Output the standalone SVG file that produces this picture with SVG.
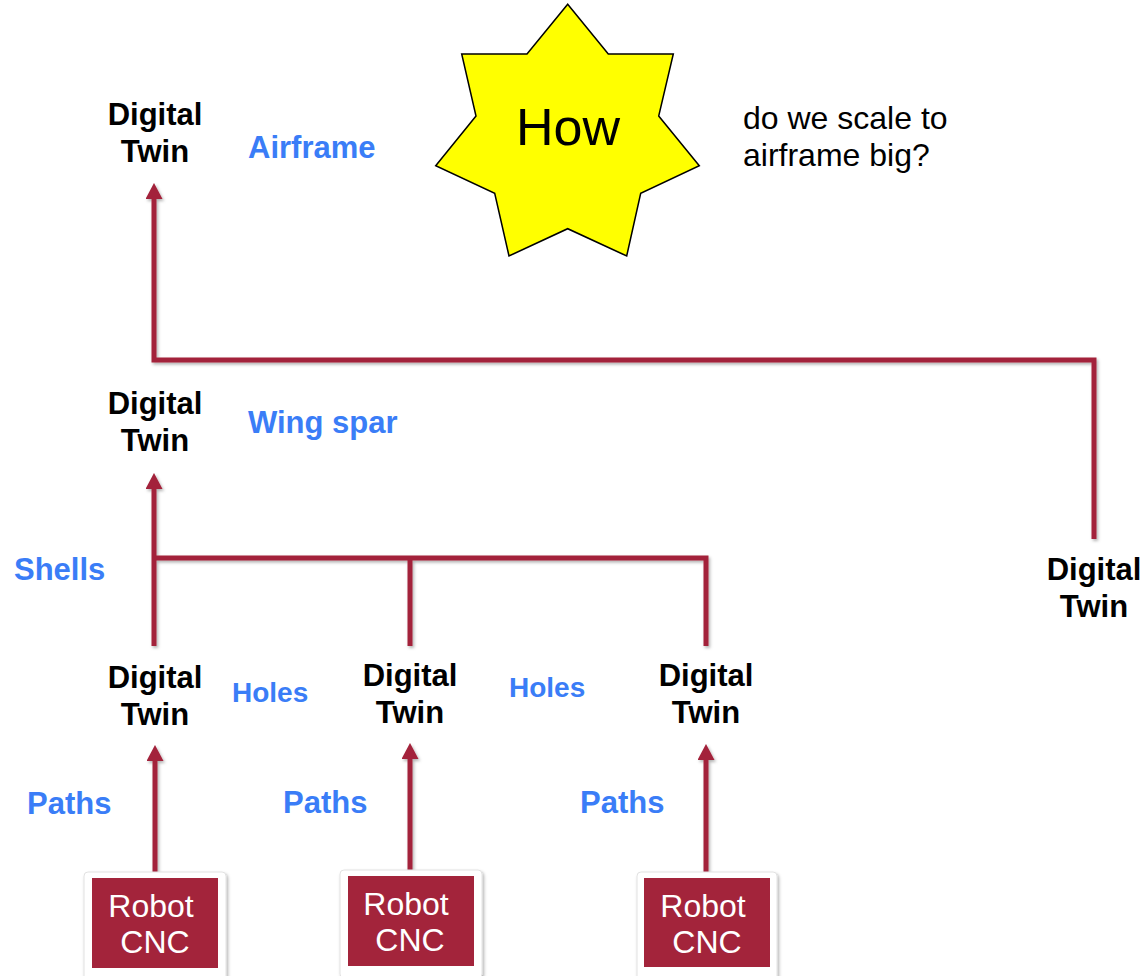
<svg xmlns="http://www.w3.org/2000/svg" width="1148" height="976" viewBox="0 0 1148 976">
  <style>
    .twin { font-family: "Liberation Sans", Arial, sans-serif; font-weight: bold; font-size: 31px; fill: #000; text-anchor: middle; }
    .lbl { font-family: "Liberation Sans", Arial, sans-serif; font-weight: bold; font-size: 31px; fill: #3A7DF7; }
    .sm { font-size: 28px; }
    .note { font-family: "Liberation Sans", Arial, sans-serif; font-size: 32px; fill: #000; }
    .cnc { font-family: "Liberation Sans", Arial, sans-serif; font-size: 32px; fill: #fff; text-anchor: middle; }
    .wire { fill: none; stroke: #A3243B; stroke-width: 5; stroke-linejoin: miter; }
    .frame { fill: #fff; stroke: #e2e2e2; stroke-width: 1; }
    .box { fill: #A3243B; }
  </style>
  <defs>
    <marker id="head" viewBox="0 0 16 17" refX="1" refY="8.5" markerWidth="16" markerHeight="17" markerUnits="userSpaceOnUse" orient="auto">
      <path d="M0,0 L16,8.5 L0,17 Z" fill="#A3243B"/>
    </marker>
    <filter id="shade" x="-20%" y="-20%" width="140%" height="140%">
      <feDropShadow dx="1.5" dy="2" stdDeviation="1.5" flood-color="#000" flood-opacity="0.3"/>
    </filter>
  </defs>

  <rect width="1148" height="976" fill="#fff"/>

  <!-- connectors -->
  <g id="connectors" filter="url(#shade)">
    <path class="wire" d="M1094,539 V360 H154 V198" marker-end="url(#head)"/>
    <path class="wire" d="M154,646 V488" marker-end="url(#head)"/>
    <path class="wire" d="M154,558 H706 V646"/>
    <path class="wire" d="M410,646 V558"/>
    <path class="wire" d="M155,875 V760" marker-end="url(#head)"/>
    <path class="wire" d="M410,873 V758" marker-end="url(#head)"/>
    <path class="wire" d="M706,875 V759" marker-end="url(#head)"/>
  </g>

  <!-- star callout -->
  <g id="how">
    <polygon points="567.7,4.3 608.3,54 673.3,54 658.7,116 699.3,165.7 640.7,193.3 626.7,256 567.7,228.7 509,256 494.7,193.3 435.7,165.7 476,116 461.7,54 527,54" fill="#FFFF00" stroke="#000" stroke-width="1.5"/>
    <text x="568" y="145" font-family="Liberation Sans, Arial, sans-serif" font-size="52" text-anchor="middle" fill="#000">How</text>
  </g>

  <g id="question">
    <text class="note" x="743" y="129">do we scale to</text>
    <text class="note" x="743" y="166">airframe big?</text>
  </g>

  <!-- digital twin nodes -->
  <g id="twin-airframe">
    <text class="twin" x="155" y="125">Digital</text>
    <text class="twin" x="155" y="162">Twin</text>
  </g>
  <g id="twin-spar">
    <text class="twin" x="155" y="414">Digital</text>
    <text class="twin" x="155" y="451">Twin</text>
  </g>
  <g id="twin-right">
    <text class="twin" x="1094" y="580">Digital</text>
    <text class="twin" x="1094" y="617">Twin</text>
  </g>
  <g id="twin-shell-1">
    <text class="twin" x="155" y="688">Digital</text>
    <text class="twin" x="155" y="725">Twin</text>
  </g>
  <g id="twin-shell-2">
    <text class="twin" x="410" y="686">Digital</text>
    <text class="twin" x="410" y="723">Twin</text>
  </g>
  <g id="twin-shell-3">
    <text class="twin" x="706" y="686">Digital</text>
    <text class="twin" x="706" y="723">Twin</text>
  </g>

  <!-- level labels -->
  <g id="labels">
    <text class="lbl" x="248" y="158">Airframe</text>
    <text class="lbl" x="248" y="433">Wing spar</text>
    <text class="lbl" x="14" y="580">Shells</text>
    <text class="lbl sm" x="232" y="702">Holes</text>
    <text class="lbl sm" x="509" y="697">Holes</text>
    <text class="lbl" x="27" y="814">Paths</text>
    <text class="lbl" x="283" y="813">Paths</text>
    <text class="lbl" x="580" y="813">Paths</text>
  </g>

  <!-- machine nodes -->
  <g id="cnc-1">
    <rect class="frame" x="84" y="872" width="142" height="108" rx="4" filter="url(#shade)"/>
    <rect class="box" x="92" y="878" width="126" height="90"/>
    <text class="cnc" x="151" y="917">Robot</text>
    <text class="cnc" x="155" y="953">CNC</text>
  </g>
  <g id="cnc-2">
    <rect class="frame" x="340" y="870" width="142" height="108" rx="4" filter="url(#shade)"/>
    <rect class="box" x="348" y="876" width="126" height="90"/>
    <text class="cnc" x="406" y="915">Robot</text>
    <text class="cnc" x="410" y="951">CNC</text>
  </g>
  <g id="cnc-3">
    <rect class="frame" x="637" y="872" width="140" height="108" rx="4" filter="url(#shade)"/>
    <rect class="box" x="644" y="878" width="126" height="89"/>
    <text class="cnc" x="703" y="917">Robot</text>
    <text class="cnc" x="707" y="953">CNC</text>
  </g>
</svg>
